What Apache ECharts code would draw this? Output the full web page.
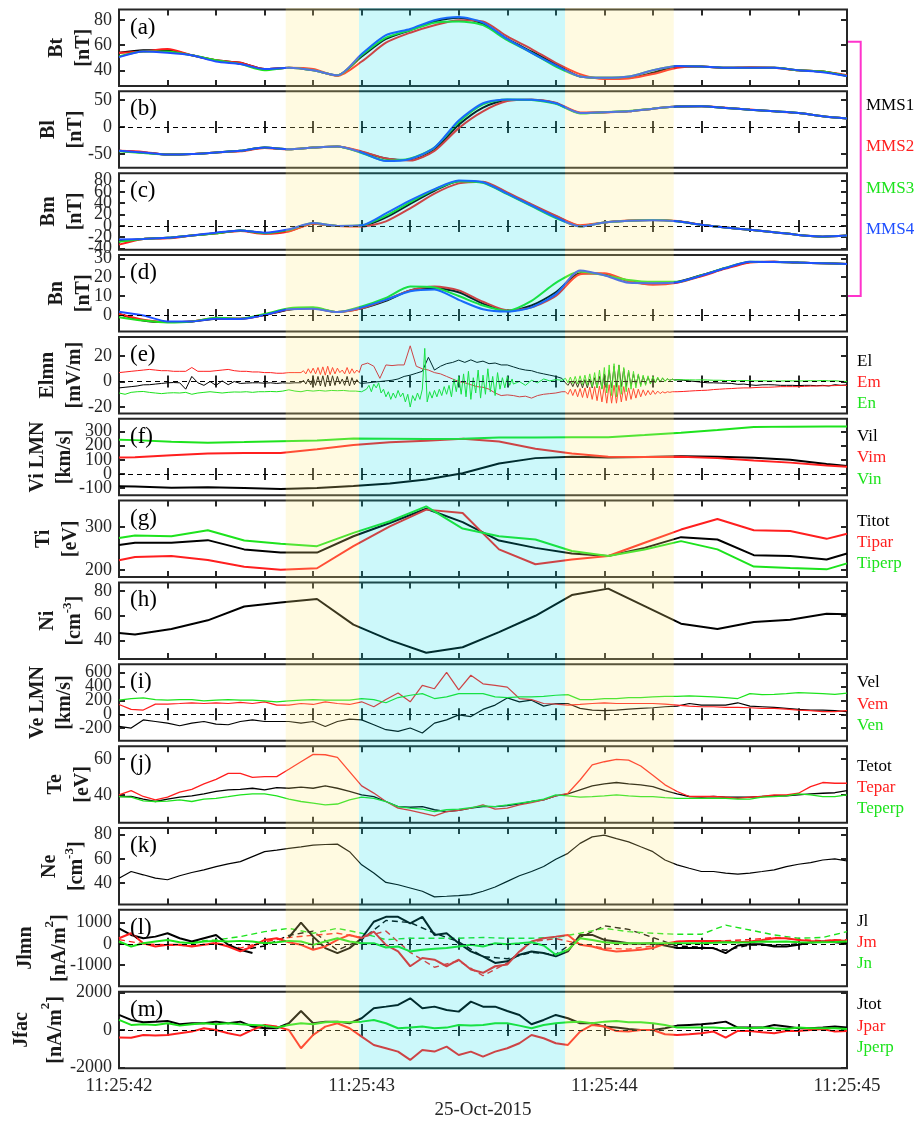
<!DOCTYPE html>
<html><head><meta charset="utf-8">
<script src="https://cdn.jsdelivr.net/npm/echarts@6/dist/echarts.min.js"></script>
<style>html,body{margin:0;padding:0;background:#fff}#c{width:914px;height:1122px}</style>
</head><body><div id="c"></div>
<script>
// ---------- time grids (s after 11:25:42) ----------
const tB = [0,0.1,0.2,0.3,0.4,0.5,0.6,0.7,0.8,0.9,1,1.1,1.2,1.3,1.4,1.5,1.6,1.7,1.8,1.9,2,2.1,2.2,2.3,2.4,2.5,2.6,2.7,2.8,2.9,3];
const t05 = [0,0.05,0.1,0.15,0.2,0.25,0.3,0.35,0.4,0.45,0.5,0.55,0.6,0.65,0.7,0.75,0.8,0.85,0.9,0.95,1,1.05,1.1,1.15,1.2,1.25,1.3,1.35,1.4,1.45,1.5,1.55,1.6,1.65,1.7,1.75,1.8,1.85,1.9,1.95,2,2.05,2.1,2.15,2.2,2.25,2.3,2.35,2.4,2.45,2.5,2.55,2.6,2.65,2.7,2.75,2.8,2.85,2.9,2.95,3];
const tE = [0,0.025,0.05,0.075,0.1,0.125,0.15,0.175,0.2,0.225,0.25,0.275,0.3,0.325,0.35,0.375,0.4,0.425,0.45,0.475,0.5,0.525,0.55,0.575,0.6,0.625,0.65,0.675,0.7,0.725,0.75,0.775,0.8,0.825,0.85,0.875,0.9,0.925,0.95,0.975,1,1.025,1.05,1.075,1.1,1.125,1.15,1.175,1.2,1.225,1.25,1.275,1.3,1.325,1.35,1.375,1.4,1.425,1.45,1.475,1.5,1.525,1.55,1.575,1.6,1.625,1.65,1.675,1.7,1.725,1.75,1.775,1.8,1.825,1.85,1.875,1.9,1.925,1.95,1.975,2,2.025,2.05,2.075,2.1,2.125,2.15,2.175,2.2,2.225,2.25,2.275,2.3,2.325,2.35,2.375,2.4,2.425,2.45,2.475,2.5,2.525,2.55,2.575,2.6,2.625,2.65,2.675,2.7,2.725,2.75,2.775,2.8,2.825,2.85,2.875,2.9,2.925,2.95,2.975,3];
const tEb1 = [0.75,0.76,0.77,0.78,0.79,0.8,0.81,0.82,0.83,0.84,0.85,0.86,0.87,0.88,0.89,0.9,0.91,0.92,0.93,0.94,0.95,0.96,0.97,0.98,0.99];
const tEn1 = [1.02,1.03,1.04,1.05,1.06,1.07,1.08,1.09,1.1,1.11,1.12,1.13,1.14,1.15,1.16,1.17,1.18,1.19,1.2,1.21,1.22,1.23,1.24,1.25,1.26,1.27,1.28,1.29,1.3,1.31,1.32,1.33,1.34,1.35,1.36,1.37,1.38,1.39,1.4,1.41,1.42,1.43,1.44,1.45,1.46,1.47,1.48,1.49,1.5,1.51,1.52,1.53,1.54,1.55,1.56,1.57,1.58,1.59,1.6,1.61,1.62];
const tEb2 = [1.84,1.85,1.86,1.87,1.88,1.89,1.9,1.91,1.92,1.93,1.94,1.95,1.96,1.97,1.98,1.99,2,2.01,2.02,2.03,2.04,2.05,2.06,2.07,2.08,2.09,2.1,2.11,2.12,2.13,2.14,2.15,2.16,2.17,2.18,2.19,2.2,2.21,2.22,2.23,2.24,2.25,2.26,2.27,2.28,2.29,2.3];
const tI = [0,0.066,0.216,0.366,0.516,0.666,0.816,0.966,1.116,1.266,1.416,1.566,1.716,1.866,2.016,2.166,2.316,2.466,2.616,2.766,2.916,3];

// ---------- tick labels ----------
const tickTimes = [0,0.2,0.4,0.6,0.8,1,1.2,1.4,1.6,1.8,2,2.2,2.4,2.6,2.8,3];
const labelTimes = [0,1,2,3];
const timeLabels = ['11:25:42','11:25:43','11:25:44','11:25:45'];
const dateLabel = '25-Oct-2015';
const shadeSpans = [[0.687,0.989,'y'],[0.989,1.838,'c'],[1.838,2.286,'y']];

// ---------- (a) Bt ----------
const Bt1 = [54,56,56,52,48,46,41,42,40,36,51,65,72,79,82,77,65,55,45,35,34,34,38,43,43,42,42,42,40,39,35.5];
const Bt2 = [54,55,57,52,48,46,41,42,41,35.5,47,62,70,76,80,79,67,57,46,37,33,33.5,37,42,43,42,42.5,42,40,39,36];
const Bt3 = [51,55,55,52,48,45,40,42,40,36,52,66,72,78,79,76,64,54,43,35,34,35,40,43.5,43,42,42,42,40,39,35.5];
const Bt4 = [50.5,55,54,52,47,45,41,42,40,36,53,68,73,80,82.5,78,65,54,44,35,34,35,40,43.5,43,42,42,42,40,38.5,35.5];
// ---------- (b) Bl ----------
const Bl1 = [-44,-47,-51,-50,-47,-44,-38,-41,-38,-36,-46,-58,-61,-42,4,36,50,50.5,44,26,27.5,29,34,38,38.4,35.4,32,29,26,20,16];
const Bl2 = [-44,-46,-51,-50,-47,-45,-39,-41,-38,-36,-45,-58,-62,-44,-2,29,48,50.5,45,27,27,29,34,38,38.4,35.5,32.5,29,26,20,16];
const Bl3 = [-45,-48,-51,-50,-47,-44,-38,-41,-38,-36,-48,-62,-58,-38,9,42,51,50,43,25,27.5,29.5,34,38,38.4,35.4,32,29,26,20,16];
const Bl4 = [-44,-47,-51,-50,-47,-44,-38,-41,-38,-36,-47,-63,-59,-38,12,44,51,50.5,44,26,27.5,29,34,38,38.4,35.4,32,29,26,20,16];
// ---------- (c) Bm ----------
const Bm1 = [-27,-23,-21,-17,-13,-8,-13,-9,4,0,0,15,39,62,79,77,58,37,17,0,6,9,10.5,8,2,-3,-7,-11,-16,-19,-17];
const Bm2 = [-33,-23,-22,-17,-13,-9,-14,-10,4,0,-1,8,31,57,75,78,59,38,18,1,6,9.5,10.5,8.5,2,-3,-7,-11,-16,-19,-17];
const Bm3 = [-28,-23,-21,-17,-13,-8,-13,-7,5,0,1,18,42,64,79,76,56,35,14,-1,6,9,10.5,8,2,-3,-7,-11,-16,-19,-17];
const Bm4 = [-24,-23,-21,-17,-12,-8,-12,-6,5,0,1,22,45,65,80,77,57,36,15,-1,6,9,10,8,2,-3,-7,-11,-16,-18.6,-17];
// ---------- (d) Bn ----------
const Bn1 = [0.5,-3,-3.8,-3.5,-2,-2,0,2.8,3.5,1.5,3.5,7.5,13,14.2,12,6,2,5,12,22,21.5,18,16.5,17.5,21,24.8,28,28.2,27.7,27.4,27];
const Bn2 = [0.5,-2.5,-3.8,-3.5,-1.7,-2,0,3,3.5,1.5,3.5,8,13,15,13,7,2.5,4,10,21.5,22,18,16,17,20.5,24.5,27.8,28.2,27.7,27.4,27];
const Bn3 = [-1.2,-3,-4,-3.5,-1.5,-2,0.5,3.5,4,1.5,4.5,9,15,14.5,10,5,2.2,7.5,17,23,21,18.5,17.5,17.5,21,25,28.2,28,27.7,27.4,27];
const Bn4 = [1.7,-0.3,-3.5,-3.5,-2,-2.2,0,3,3.3,1.5,4,8,12.5,13.5,8,3,1.8,4,11,23.5,21,17,16.8,17.3,20.8,24.8,28.2,28,27.7,27.4,27];
// ---------- (e) E LMN: base (tE) and wave bursts ----------
const El = [-5,-4.5,-4,-3.5,-2.6,-2.5,-2,-1.5,-1,-0.8,-1,-6,4,-1,-3,0,-3,0.5,-2.5,0,-1.5,-1.2,-1,-1,-1.3,-1,-1.5,-1,-1.3,-1,-2,2,-3,4,-3,5,-2,3,-3,2.5,-1.5,-1,-0.5,0,0.5,1,2,4,5,6.5,8,19,9,12,14,15,16.8,15,17,15,16,14,14.5,13,13,11.5,10,9,8.5,7,6,5,4,2.5,-1,-4,1,-4,2,-4,8,-3,12,-4,9,-3,6,-2,4,0,3,2,1.3,1,0.5,0,-0.5,-1,-1,-1.2,-1.3,-1.5,-2.2,-2,-2.6,-3,-2.6,-2.5,-2.6,-3,-3,-3,-3.2,-3,-3,-3.3,-3,-3.5,-2.5,-3,-2.6];
const Em = [7,7.5,8,8.5,9,9.5,9,8.5,8.5,8,8,8,11,8,8,8,8.5,9,9.5,8.5,8,8,7.5,7.5,7,7,6.5,6.5,7,7,8,6,10,7,11,8,11,7,10,7,13,14.5,12,2.5,13,12.5,13,13,28,12,10,9,7,6,4,2,0,-1,-2.5,-4,-4.5,-6,-9,-11,-10.5,-11,-12,-11.5,-13,-11,-10,-9.5,-9,-8,-5,-11,-6,-12,-5,-14,-4,-15,-3,-16,-5,-13,-6,-11,-7,-10,-8,-8.5,-8,-7.8,-7.5,-7.2,-7,-6.8,-6.3,-6,-5.7,-5.5,-5.2,-5,-5,-4.7,-4.5,-4.5,-4.3,-4,-4,-4,-4,-3.8,-3.6,-3.5,-3.4,-3.3,-3.2,-3,-3];
const En = [-9,-10,-8.5,-8,-7.8,-8.5,-9,-9.5,-9,-8.8,-9,-8.5,-10,-9,-8.5,-8,-8.5,-9,-8.5,-8.2,-8.3,-8,-8.5,-8,-8,-7.8,-8,-7.5,-6.5,-7.5,-8,-7,-7.5,-7,-7.5,-7,-7.2,-7,-7.5,-7.5,-8,-7,-4,-2,-6,-13,-11,-14,-10,-18,26,-15,-9,-14,-6,-12,-4,-10,5,-14,6,-13,4,-10,2,-2,0,-3,1,-1,2,0.5,1.5,1,2,-2,4,-4,7,-6,12,-10,13,-12,10,-8,7,-4,4,-1,2.5,1,1.5,1.3,1.3,1.2,1.3,1.2,1,1,0.8,0.8,0.6,0.8,0.6,0.5,0.6,0.5,0.5,0.4,0.5,0.5,0.4,0.5,0.6,0.5,0.8,0.5,0.6,0.2,0];
const ElB1 = [-1,1,-2,2,-2.5,3,-3,4,-3.5,4.5,-4,5,-3.5,4.5,-3,4,-2,2,-3,4,-3.5,3,-2.5,1.5,-1];
const EmB1 = [7,8.5,6,10,6.5,10.5,6,11,5.5,11.5,5,12,5.5,11,6,10.5,7,9,6,11,6,10,6.5,9,7];
const EnN1 = [-6,-3,-8,-2,-5,-1,-9,-6,-12,-8,-14,-9,-13,-7,-12,-9,-16,-10,-20,-11,-15,-9,-14,-6,26,-16,-8,-13,-7,-12,-6,-11,-4,-10,-3,-12,2,-8,4,-10,6,-12,8,-14,3,-9,9,-13,5,-10,10,-8,4,-11,7,-6,3,-5,4,-3,2];
const EnB2 = [2.5,-1,3.5,-1.5,4,-2,4.5,-2.5,5,-3,6,-4,7,-5,9,-6,11,-9,13,-11,14,-12,13,-10,11,-8,9,-6,8,-5,6,-4,5,-3,4.5,-2,4,-1,3.5,-0.5,3,0,2.5,0.5,2,1,1.5];
const ElB2 = [-1,-3,0,-4,0.5,-4.5,1,-5,1.5,-5,2,-5,3,-5,4,-5.5,6,-5,9,-5,12,-4.5,13,-4,10,-4,8,-3.5,6,-3,5,-2.5,4,-2,3.5,-1.5,3,-1,2.5,0,2.5,0.5,2,1,1.8,1.2,1.3];
const EmB2 = [-8,-10,-6,-11,-6,-12,-5.5,-12.5,-5,-13,-4.5,-14,-4,-15,-3.5,-16,-3,-17,-2.5,-17,-3,-17,-3,-16,-4,-15,-5,-14,-5.5,-13,-6,-12,-6.5,-11,-7,-10.5,-7,-10,-7.5,-9.5,-8,-9,-8,-8.5,-8,-8,-8];
// ---------- (f) Vi LMN ----------
const Vil = [-88,-90,-98,-95,-100,-107,-100,-86,-68,-40,5,74,112,121,116,120,126,122,114,100,70,56];
const Vim = [116,118,132,145,149,149,175,205,225,235,249,230,178,145,121,120,121,112,95,80,60,51];
const Vin = [242,240,228,222,226,232,238,252,250,248,249,258,259,260,260,276,293,312,333,336,337,337];
// ---------- (g) Ti ----------
const Titot = [258.5,264,264,270,248.5,241,241,279,310,343,312,269,252,239,233,252,277,271.5,235,233,225,239];
const Tipar = [223,231,233,224,208,201,204.6,256,302,341,333,248.5,214,225,233,264,294.6,319,293,291.5,273,285];
const Tiperp = [275,281,279,293,269,261.5,256,287,314,348.5,297,279,271.5,244.6,233,248,267.7,248.5,208.5,205,202,216];
// ---------- (h) Ni ----------
const Ni = [46,44.8,49.3,56.3,67.5,70.7,73.6,52.8,40.3,30,34.5,46.7,60,76.8,82,67.8,53.6,49.3,55,56.8,61.6,61.3];
// ---------- (i) Ve LMN ----------
const Vel = [-174,-197,-80,-103,-127,-164,-127,-103,-140,-150,-103,-80,-103,-103,-103,-127,-103,-174,-103,-70,-80,-150,-221,-244,-197,-268,-127,-80,-9,-33,70,132,235,179,202,117,155,155,85,61,52,61,75,85,94,108,117,155,132,132,132,165,117,108,99,85,70,61,61,52,38];
const Vem = [141,70,61,146,146,155,165,155,165,155,170,155,179,132,132,155,141,179,155,141,179,108,211,305,179,414,367,600,350,560,437,414,390,226,211,155,146,132,141,155,165,155,155,155,155,146,132,117,108,108,99,99,94,85,85,75,61,52,38,38,52];
const Ven = [202,226,235,211,202,211,211,193,202,211,202,202,193,179,193,202,211,202,202,202,226,211,165,240,273,296,226,249,296,296,296,249,240,249,249,258,273,282,211,211,226,226,240,240,249,258,258,263,258,249,240,226,296,282,287,296,310,305,296,287,305];
// ---------- (j) Te ----------
const Tetot = [39,39.2,37.6,36.3,37.6,38.7,39.4,40.6,41.9,42.8,43.1,43.7,42.8,44,43.7,44.3,43.7,45,43.7,41.9,40,39,36.3,33.5,33.1,33.5,31.7,30.7,31.3,32.6,33.5,33.5,34,35,36.3,37.2,39.4,40.6,42.8,45,46.1,46.9,46.1,45.6,44.6,42.4,40.6,39.1,38.7,39.1,38.7,38.7,38.7,39.1,39.4,39.4,40,40.6,40.9,41.2,42.4];
const Tepar = [40,42.4,39.1,37.2,38.7,41.5,43.1,46.1,48.7,52,52,49.8,50.2,50.2,54.3,58.5,62.6,62.4,60.9,53,45,41,36.3,32.6,31.3,29.8,28.3,30.7,31.3,32.6,34.4,32,32.6,34.4,35.7,37.2,39.4,40.9,48.3,56.7,58.5,59.8,59.4,56.1,51,45.6,41.9,39.1,39.1,39.1,38.7,38.1,38.7,39.1,40,40,40.9,44.6,46.9,46.5,46.5];
const Teperp = [39,38.7,36.7,36.3,36.5,37.2,36.3,37.6,38.1,39,40,40.6,40.6,39.4,37.6,36.3,35.4,34.4,34.9,37.2,38.7,38.1,36.3,33.5,32.6,32,30.7,31.7,32,32.9,33.9,33.5,34.4,35.4,36.3,37.6,40,39.4,38.7,39,39.4,40,39.4,39,39,38.5,38.1,38.1,38.1,38.1,38.1,37.6,37.6,38.7,39,39.4,40.6,40,39,39,40];
// ---------- (k) Ne ----------
const Ne = [44,49.5,46.8,44,42.7,46,48.7,50.9,53.6,55.8,57.7,61.8,65.9,67.2,68.6,69.9,71.3,71.8,72.1,65.9,55,48.2,40.5,38.6,35.9,33.2,28.6,29.1,29.7,30.5,33.2,36.7,41.4,46,49.5,53.6,59.6,64.5,72.7,78.1,79.5,76.7,74,69.9,65.9,59,55,52.2,49.5,49.5,48.2,47.3,48.2,49.5,50.9,53.6,55.5,56.9,59,59.9,58.2];
// ---------- (l) J LMN (solid: t05, dashed: tB) ----------
const Jl = [730,420,265,340,500,265,110,265,420,-47,-280,-434,null,null,300,1000,340,-200,-434,-200,265,1040,1270,1270,960,1270,420,500,30,-357,-590,-900,-820,-510,-357,-434,-590,-357,420,420,186,110,30,0,30,-78,-200,-200,-200,-200,-434,-78,-20,-20,-124,-124,-47,78,110,80,30];
const Jm = [265,500,30,-124,-47,-47,-124,-47,30,-124,-357,-124,186,265,78,-47,-280,-124,186,420,265,574,-47,-357,-1054,-667,-744,-1054,-744,-1209,-1364,-1054,-977,-357,110,265,340,420,-47,-124,-280,-357,-330,-280,-200,0,110,140,140,140,110,78,110,186,265,265,186,140,110,186,140];
const Jn = [110,-124,30,110,186,78,30,110,140,110,140,110,30,78,140,110,-47,110,265,110,30,30,-170,-124,-357,-280,-233,-200,-124,-47,-124,30,-15,30,78,-78,-510,-280,265,186,78,30,30,30,30,30,30,30,30,50,78,60,78,110,100,110,78,60,78,90,110];
const JlD = [null,null,null,null,null,-300,-100,400,600,-300,200,1100,1000,500,100,-600,-700,-400,-500,300,850,680,300,-100,-150,-300,-50,-80,0,100,50];
const JmD = [200,0,-50,-100,50,-200,100,300,400,500,300,600,-400,-1100,-800,-1500,-900,100,250,0,-200,-250,-100,100,150,150,200,300,200,150,200];
const JnD = [null,null,null,100,186,340,574,730,500,730,500,200,265,265,265,300,265,265,300,500,730,574,500,450,450,880,650,420,265,300,574];
// ---------- (m) J fac ----------
const Jtot = [804,536,411,446,482,304,357,357,446,357,446,179,89,89,357,1018,357,446,446,357,625,1161,1250,1340,1697,1161,1250,1071,982,1518,1250,1250,1018,804,304,536,804,625,357,357,179,125,54,0,0,89,232,268,304,357,446,125,125,125,268,179,89,89,125,179,125];
const Jpar = [-400,-420,-268,-300,-268,-179,-89,89,0,-179,-304,0,268,179,0,-982,-268,179,357,89,-357,-804,-982,-1161,-1607,-1071,-1161,-893,-1340,-1161,-1429,-1161,-982,-714,-268,-446,-714,-804,-89,268,179,-54,-89,0,0,-232,-268,-232,-179,-89,-411,-54,-54,-125,-179,-54,-54,0,54,-89,-54];
const Jperp = [536,268,304,268,357,232,304,357,304,357,304,268,232,125,268,357,304,411,446,411,446,536,357,89,125,179,89,125,268,232,268,357,357,232,89,268,357,411,446,357,446,482,411,411,357,268,125,125,125,125,89,125,89,125,89,54,125,89,89,89,54];

// ---------- styles & layout ----------
const FONT = 'Liberation Serif, Times New Roman, serif';
const FRAME = '#262626', LABEL = '#262626';
const COL = {k:'#000000', r:'#ff1f1f', g:'#1de31d', b:'#1f4fff'};
const TOP0 = 9.5, STEP = 81.85, H = 76.5, LEFT = 119, RIGHT = 67;

function zip(t, v){ return t.map((x,i)=>[x, v[i]==null ? '-' : v[i]]); }
// replace base samples inside burst windows by the burst samples
function withBursts(tBase, base, bursts){
  const pts = [];
  tBase.forEach((t,i)=>{
    if (!bursts.some(([bt])=> t>=bt[0] && t<=bt[bt.length-1])) pts.push([t, base[i]]);
  });
  bursts.forEach(([bt,bv])=> bt.forEach((t,i)=> pts.push([t, bv[i]])));
  pts.sort((a,b)=>a[0]-b[0]);
  return pts;
}
const ElPts = withBursts(tE, El, [[tEb1,ElB1],[tEb2,ElB2]]);
const EmPts = withBursts(tE, Em, [[tEb1,EmB1],[tEb2,EmB2]]);
const EnPts = withBursts(tE, En, [[tEn1,EnN1],[tEb2,EnB2]]);

const panels = [
 {letter:'(a)', name:'{b|Bt}\n{b|[nT]}', gap:22, range:[27.5,88.5], yticks:[40,60,80], zero:false, smooth:0.25,
  lines:[[zip(tB,Bt1),'k',2],[zip(tB,Bt2),'r',2],[zip(tB,Bt3),'g',2],[zip(tB,Bt4),'b',2]]},
 {letter:'(b)', name:'{b|Bl}\n{b|[nT]}', gap:30, range:[-75.5,66], yticks:[-50,0,50], zero:true, smooth:0.25,
  lines:[[zip(tB,Bl1),'k',2],[zip(tB,Bl2),'r',2],[zip(tB,Bl3),'g',2],[zip(tB,Bl4),'b',2]]},
 {letter:'(c)', name:'{b|Bm}\n{b|[nT]}', gap:30, range:[-42,93], yticks:[-40,-20,0,20,40,60,80], zero:true, smooth:0.25,
  lines:[[zip(tB,Bm1),'k',2],[zip(tB,Bm2),'r',2],[zip(tB,Bm3),'g',2],[zip(tB,Bm4),'b',2]]},
 {letter:'(d)', name:'{b|Bn}\n{b|[nT]}', gap:22, range:[-8.8,31.7], yticks:[0,10,20,30], zero:true, smooth:0.25,
  lines:[[zip(tB,Bn1),'k',2],[zip(tB,Bn2),'r',2],[zip(tB,Bn3),'g',2],[zip(tB,Bn4),'b',2]]},
 {letter:'(e)', name:'{b|Elmn}\n{b|[mV/m]}', gap:31, range:[-25,35], yticks:[-20,0,20], zero:true,
  lines:[[ElPts,'k',1],[EmPts,'r',1],[EnPts,'g',1]]},
 {letter:'(f)', name:'{b|Vi LMN}\n{b|[km/s]}', gap:41, range:[-152,392], yticks:[-100,0,100,200,300], zero:true,
  lines:[[zip(tI,Vil),'k',2],[zip(tI,Vim),'r',2],[zip(tI,Vin),'g',2]]},
 {letter:'(g)', name:'{b|Ti}\n{b|[eV]}', gap:35, range:[184,362], yticks:[200,300], zero:false,
  lines:[[zip(tI,Titot),'k',2],[zip(tI,Tipar),'r',2],[zip(tI,Tiperp),'g',2]]},
 {letter:'(h)', name:'{b|Ni}\n{b|[cm}{s|-3}{b|]}', gap:31, range:[25,87], yticks:[40,60,80], zero:false,
  lines:[[zip(tI,Ni),'k',2]]},
 {letter:'(i)', name:'{b|Ve LMN}\n{b|[km/s]}', gap:41, range:[-380,717], yticks:[-200,0,200,400,600], zero:true,
  lines:[[zip(t05,Vel),'k',1.2],[zip(t05,Vem),'r',1.2],[zip(t05,Ven),'g',1.2]]},
 {letter:'(j)', name:'{b|Te}\n{b|[eV]}', gap:23, range:[24.5,67.2], yticks:[40,60], zero:false,
  lines:[[zip(t05,Tetot),'k',1.3],[zip(t05,Tepar),'r',1.3],[zip(t05,Teperp),'g',1.3]]},
 {letter:'(k)', name:'{b|Ne}\n{b|[cm}{s|-3}{b|]}', gap:29, range:[22.3,85.4], yticks:[40,60,80], zero:false,
  lines:[[zip(t05,Ne),'k',1.2]]},
 {letter:'(l)', name:'{c|Jlmn}\n{c|[nA/m}{t|2}{c|]}', gap:42, range:[-2000,1600], yticks:[-1000,0,1000], zero:true,
  lines:[[zip(tB,JlD),'k',1.4,true],[zip(tB,JmD),'r',1.4,true],[zip(tB,JnD),'g',1.4,true],[zip(t05,Jl),'k',2],[zip(t05,Jm),'r',2],[zip(t05,Jn),'g',2]]},
 {letter:'(m)', name:'{c|Jfac}\n{c|[nA/m}{t|2}{c|]}', gap:46, range:[-2050,2050], yticks:[-2000,0,2000], zero:true,
  lines:[[zip(t05,Jtot),'k',2],[zip(t05,Jpar),'r',2],[zip(t05,Jperp),'g',2]]}
];

const legends = [
 [866,106,'MMS1','k'],[866,147,'MMS2','r'],[866,189,'MMS3','g'],[866,230,'MMS4','b'],
 [857,362,'El','k'],[857,383,'Em','r'],[857,404,'En','g'],
 [857,437,'Vil','k'],[857,458,'Vim','r'],[857,480,'Vin','g'],
 [857,522,'Titot','k'],[857,543,'Tipar','r'],[857,564,'Tiperp','g'],
 [857,683,'Vel','k'],[857,705,'Vem','r'],[857,726,'Ven','g'],
 [857,767,'Tetot','k'],[857,788,'Tepar','r'],[857,809,'Teperp','g'],
 [857,922,'Jl','k'],[857,943,'Jm','r'],[857,964,'Jn','g'],
 [857,1005,'Jtot','k'],[857,1027,'Jpar','r'],[857,1048,'Jperp','g']
];

const NC = '#1a1a1a';
const nameRich = {
  b:{fontFamily:FONT, fontSize:20, fontWeight:'bold', color:NC, lineHeight:27},
  s:{fontFamily:FONT, fontSize:13, fontWeight:'bold', color:NC, lineHeight:15, verticalAlign:'top'},
  c:{fontFamily:FONT, fontSize:20, fontWeight:'bold', color:NC, lineHeight:34},
  t:{fontFamily:FONT, fontSize:13, fontWeight:'bold', color:NC, lineHeight:20, verticalAlign:'top'}
};

const grids=[], xAxes=[], yAxes=[], series=[];
const tickBase = {show:true, inside:true, length:6, lineStyle:{color:FRAME, width:2}};
const labelBase = {interval:0, showMinLabel:true, showMaxLabel:true, hideOverlap:false, formatter:v=>String(v), fontFamily:FONT, fontSize:18, color:LABEL, margin:7};
panels.forEach((p,i)=>{
  const top = TOP0 + i*STEP;
  const last = i === panels.length-1;
  grids.push({left:LEFT, right:RIGHT, top:top, height:H, show:true, borderColor:FRAME, borderWidth:2, backgroundColor:'transparent'});
  xAxes.push({type:'value', gridIndex:i, min:0, max:3, position:'bottom', axisLine:{show:false}, splitLine:{show:false},
    axisTick:Object.assign({}, tickBase, {customValues:tickTimes}),
    axisLabel:{show:last, customValues:labelTimes, interval:0, showMinLabel:true, showMaxLabel:true, formatter:v=>timeLabels[Math.round(v)], fontFamily:FONT, fontSize:19, color:LABEL, margin:8},
    name:last?dateLabel:'', nameLocation:'middle', nameGap:32, nameMoveOverlap:false, nameTextStyle:{fontFamily:FONT, fontSize:19, color:LABEL}});
  xAxes.push({type:'value', gridIndex:i, min:0, max:3, position:'top', axisLine:{show:false}, splitLine:{show:false},
    axisTick:Object.assign({}, tickBase, {customValues:tickTimes}), axisLabel:{show:false}});
  // labels split over two left axes so that crowded labels are never thinned out
  const evenTicks = p.yticks.filter((v,k)=>k%2===0);
  const oddTicks = p.yticks.filter((v,k)=>k%2===1);
  yAxes.push({type:'value', gridIndex:i, min:p.range[0], max:p.range[1], position:'left', axisLine:{show:false}, splitLine:{show:false},
    axisTick:Object.assign({}, tickBase, {customValues:p.yticks}),
    axisLabel:Object.assign({}, labelBase, {customValues:evenTicks}),
    name:p.name, nameLocation:'middle', nameRotate:90, nameGap:p.gap, nameMoveOverlap:false,
    nameTextStyle:{fontFamily:FONT, fontSize:20, fontWeight:'bold', color:NC, rich:nameRich}});
  yAxes.push({type:'value', gridIndex:i, min:p.range[0], max:p.range[1], position:'left', offset:0, axisLine:{show:false}, splitLine:{show:false},
    axisTick:{show:false},
    axisLabel:Object.assign({}, labelBase, {show:oddTicks.length>0, customValues:oddTicks.length?oddTicks:[p.range[0]]})});
  yAxes.push({type:'value', gridIndex:i, min:p.range[0], max:p.range[1], position:'right', axisLine:{show:false}, splitLine:{show:false},
    axisTick:Object.assign({}, tickBase, {customValues:p.yticks}), axisLabel:{show:false}});
  p.lines.forEach((ln,j)=>{
    const [pts, col, w, dash] = ln;
    const s = {type:'line', xAxisIndex:2*i, yAxisIndex:3*i, data:pts, symbol:'none', showSymbol:false,
      smooth:p.smooth||false, connectNulls:false, silent:true, animation:false,
      lineStyle:{color:COL[col], width:w, type:dash?[6,4]:'solid'}};
    if (j===0 && p.zero) {
      s.markLine = {silent:true, symbol:['none','none'], label:{show:false}, animation:false,
        lineStyle:{color:'#000', type:[5,4], width:1.2}, data:[{yAxis:0}]};
    }
    series.push(s);
  });
});

const chart = echarts.init(document.getElementById('c'));
chart.setOption({animation:false, backgroundColor:'#fff', grid:grids, xAxis:xAxes, yAxis:yAxes, series:series});

// ---------- overlay graphics ----------
const els = [];
panels.forEach((p,i)=>{
  els.push({type:'text', x:130, y:TOP0 + i*STEP + 18, z:120, silent:true,
    style:{text:p.letter, fill:'#000', fontFamily:FONT, fontSize:23, verticalAlign:'middle', align:'left'}});
});
legends.forEach(([x,y,txt,c])=>{
  els.push({type:'text', x:x, y:y, z:120, silent:true,
    style:{text:txt, fill:COL[c], fontFamily:FONT, fontSize:17, verticalAlign:'middle', align:'left'}});
});
els.push({type:'polyline', z:120, silent:true, shape:{points:[[848,41.7],[860.7,41.7],[860.7,296],[848,296]]},
  style:{stroke:'#ff33cc', lineWidth:2, fill:null}});
const bottom = TOP0 + (panels.length-1)*STEP + H;
shadeSpans.forEach(([a,b,k])=>{
  const x1 = chart.convertToPixel({xAxisIndex:0}, a);
  const x2 = chart.convertToPixel({xAxisIndex:0}, b);
  els.push({type:'rect', z:100, silent:true, shape:{x:x1, y:TOP0-1.5, width:x2-x1, height:bottom-TOP0+3},
    style:{fill: k==='y' ? 'rgba(255,234,128,0.235)' : 'rgba(0,220,230,0.2)'}});
});
chart.setOption({graphic:{elements:els}});
</script></body></html>
